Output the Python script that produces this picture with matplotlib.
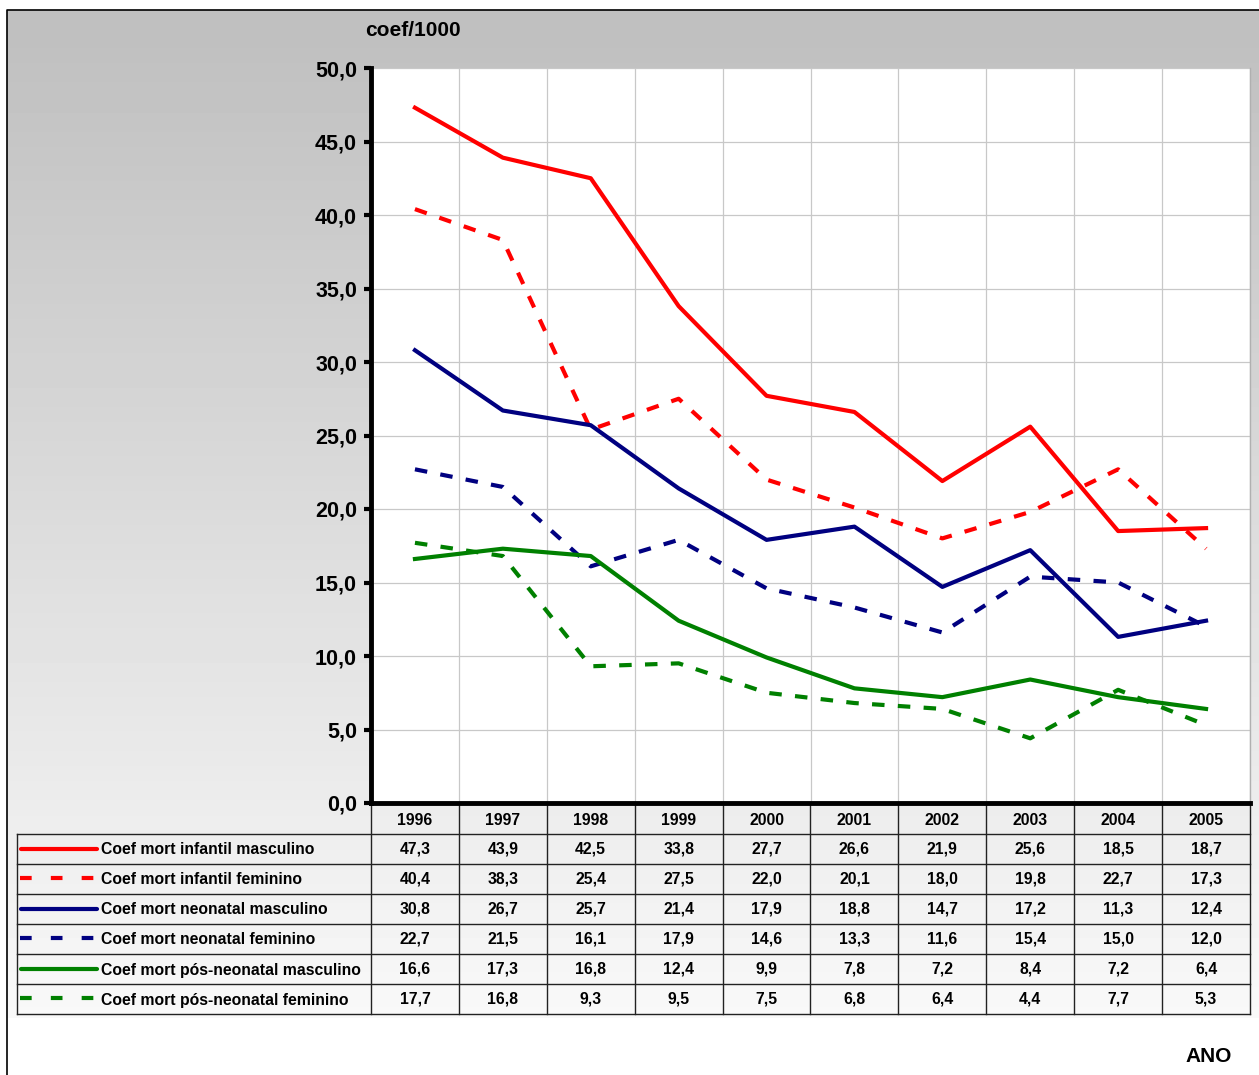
import numpy as np
import matplotlib.pyplot as plt

plt.rcParams['font.family'] = ['Liberation Sans', 'DejaVu Sans']
plt.rcParams['font.weight'] = 'bold'

anos = ['1996', '1997', '1998', '1999', '2000', '2001', '2002', '2003', '2004', '2005']
series_names = ['Coef mort infantil masculino', 'Coef mort infantil feminino',
                'Coef mort neonatal masculino', 'Coef mort neonatal feminino',
                'Coef mort pós-neonatal masculino', 'Coef mort pós-neonatal feminino']
inf_masc = [47.3, 43.9, 42.5, 33.8, 27.7, 26.6, 21.9, 25.6, 18.5, 18.7]
inf_fem = [40.4, 38.3, 25.4, 27.5, 22.0, 20.1, 18.0, 19.8, 22.7, 17.3]
neo_masc = [30.8, 26.7, 25.7, 21.4, 17.9, 18.8, 14.7, 17.2, 11.3, 12.4]
neo_fem = [22.7, 21.5, 16.1, 17.9, 14.6, 13.3, 11.6, 15.4, 15.0, 12.0]
pos_masc = [16.6, 17.3, 16.8, 12.4, 9.9, 7.8, 7.2, 8.4, 7.2, 6.4]
pos_fem = [17.7, 16.8, 9.3, 9.5, 7.5, 6.8, 6.4, 4.4, 7.7, 5.3]
values = [inf_masc, inf_fem, neo_masc, neo_fem, pos_masc, pos_fem]
colors = ['#ff0000', '#ff0000', '#000080', '#000080', '#008000', '#008000']
dashed = [False, True, False, True, False, True]

W, H = 1259, 1075
fig = plt.figure(figsize=(W / 100, H / 100), dpi=100)

# background layer in pixel coordinates
bg = fig.add_axes([0, 0, 1, 1])
bg.set_xlim(0, W)
bg.set_ylim(H, 0)
bg.axis('off')
grad = np.linspace(0.753, 0.975, 256).reshape(-1, 1)
bg.imshow(grad, cmap='gray', vmin=0, vmax=1, extent=[7, W, 1018, 40], aspect='auto')
bg.fill_between([7, W], 10, 40, color='#c0c0c0', lw=0)
bg.plot([7, 7, W], [H, 10, 10], color='black', lw=1.2)

# chart
x0, x1, y0, y1 = 371, 1250, 803, 68
ax = fig.add_axes([x0 / W, 1 - y0 / H, (x1 - x0) / W, (y0 - y1) / H])
ax.set_facecolor('white')
n = len(anos)
xs = np.arange(n)
for v, c, d in zip(values, colors, dashed):
    if d:
        ax.plot(xs, v, color=c, lw=3, dashes=(3, 3.2), zorder=3)
    else:
        ax.plot(xs, v, color=c, lw=3, zorder=3)
ax.set_xlim(-0.5, n - 0.5)
ax.set_ylim(0, 50)
ax.set_yticks(np.arange(0, 51, 5))
ax.set_yticklabels([f'{t:.1f}'.replace('.', ',') for t in np.arange(0, 51, 5)], fontsize=15.5, fontweight='bold')
ax.set_xticks(xs)
ax.set_xticklabels([])
ax.tick_params(axis='x', length=0)
ax.tick_params(axis='y', length=5, width=3, pad=5)
ax.set_xticks(np.arange(-0.5, n, 1), minor=True)
ax.grid(True, axis='y', color='#c8c8c8', lw=0.9)
ax.grid(True, axis='x', which='minor', color='#c8c8c8', lw=0.9)
ax.tick_params(axis='x', which='minor', length=0)
ax.spines['left'].set_linewidth(3.5)
ax.spines['bottom'].set_linewidth(3.5)
ax.spines['top'].set_visible(False)
ax.spines['right'].set_color('#b0b0b0')
ax.spines['right'].set_linewidth(1)

bg.text(365, 30, 'coef/1000', fontsize=15, fontweight='bold', ha='left', va='center')
bg.text(1232, 1056, 'ANO', fontsize=15, fontweight='bold', ha='right', va='center')

# data table
cw = (x1 - x0) / n
hdr_top, hdr_bot = 805, 834
rh = 30
tab_left = 17
tab_bot = hdr_bot + rh * len(values)
for i in range(n + 1):
    bg.plot([x0 + i * cw] * 2, [hdr_top, tab_bot], color='#222222', lw=1)
for j in range(len(values) + 1):
    bg.plot([tab_left, x1], [hdr_bot + j * rh] * 2, color='#222222', lw=1)
bg.plot([tab_left, tab_left], [hdr_bot, tab_bot], color='#222222', lw=1)
for i, a in enumerate(anos):
    bg.text(x0 + (i + 0.5) * cw, (hdr_top + hdr_bot) / 2 + 1, a, fontsize=11.3,
            fontweight='bold', ha='center', va='center')
for j, (name, v, c, d) in enumerate(zip(series_names, values, colors, dashed)):
    yc = hdr_bot + (j + 0.5) * rh
    if d:
        bg.plot([20, 95], [yc - 1, yc - 1], color=c, lw=3, dashes=(2.8, 4.6), solid_capstyle='butt')
    else:
        bg.plot([21, 97], [yc, yc], color=c, lw=3, solid_capstyle='round')
    bg.text(101, yc + 1, name, fontsize=11.3, fontweight='bold', ha='left', va='center')
    for i, val in enumerate(v):
        bg.text(x0 + (i + 0.5) * cw, yc, f'{val:.1f}'.replace('.', ','), fontsize=11.3,
                fontweight='bold', ha='center', va='center')

fig.savefig('out.png', dpi=100)
